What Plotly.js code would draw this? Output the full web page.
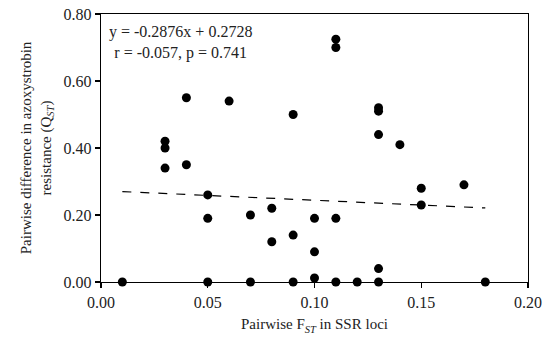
<!DOCTYPE html>
<html>
<head>
<meta charset="utf-8">
<script src="https://cdn.plot.ly/plotly-3.0.1.min.js"></script>
<style>html,body{margin:0;padding:0;background:#fff;}#chart{width:550px;height:345px;}</style>
</head>
<body>
<div id="chart"></div>
<script>
// Pairwise FST (x) and pairwise QST (y)
const fstValues = [0.01, 0.03, 0.03, 0.03, 0.04, 0.04, 0.05, 0.05, 0.05, 0.06,
                   0.07, 0.07, 0.08, 0.08, 0.09, 0.09, 0.09, 0.10, 0.10, 0.10,
                   0.11, 0.11, 0.11, 0.11, 0.12, 0.13, 0.13, 0.13, 0.13, 0.13,
                   0.14, 0.15, 0.15, 0.17, 0.18];
const qstValues = [0.00, 0.42, 0.40, 0.34, 0.55, 0.35, 0.26, 0.19, 0.00, 0.54,
                   0.20, 0.00, 0.22, 0.12, 0.50, 0.14, 0.00, 0.19, 0.09, 0.012,
                   0.725, 0.70, 0.19, 0.00, 0.00, 0.52, 0.51, 0.44, 0.04, 0.00,
                   0.41, 0.28, 0.23, 0.29, 0.00];
// Regression line y = slope*x + intercept, drawn over the data's x span
const slope = -0.2876;
const intercept = 0.2728;
const trendX = [0.01, 0.18];
const trendY = trendX.map(x => slope * x + intercept);

const xTicks = [0, 0.05, 0.10, 0.15, 0.20];
const xTickText = ['0.00', '0.05', '0.10', '0.15', '0.20'];
const yTicks = [0, 0.2, 0.4, 0.6, 0.8];
const yTickText = ['0.00', '0.20', '0.40', '0.60', '0.80'];

const font = 'Liberation Serif';
const txt = '#222';

const traces = [
  {
    x: trendX, y: trendY, type: 'scatter', mode: 'lines',
    line: {color: '#000', width: 1.2, dash: 'dash'},
    hoverinfo: 'skip', cliponaxis: false
  },
  {
    x: fstValues, y: qstValues, type: 'scatter', mode: 'markers',
    marker: {color: '#000', size: 9},
    cliponaxis: false
  }
];

const axisCommon = {
  showgrid: false, zeroline: false, showline: true, linecolor: '#000', linewidth: 1.3,
  ticks: 'outside', ticklen: 5, tickcolor: '#000', tickwidth: 1.3,
  mirror: true,
  tickfont: {family: font, size: 16, color: txt},
  fixedrange: true
};

const layout = {
  width: 550, height: 345,
  margin: {l: 101, r: 22, t: 14, b: 63},
  paper_bgcolor: '#fff', plot_bgcolor: '#fff',
  showlegend: false,
  font: {family: font, color: txt},
  xaxis: Object.assign({}, axisCommon, {
    range: [0, 0.2], tickvals: xTicks, ticktext: xTickText,
    title: {text: 'Pairwise F<sub><i>ST</i></sub> in SSR loci', font: {family: font, size: 15, color: txt}, standoff: 9}
  }),
  yaxis: Object.assign({}, axisCommon, {
    range: [0, 0.8], tickvals: yTicks, ticktext: yTickText,
    title: {text: 'Pairwise difference in azoxystrobin<br>resistance (Q<sub><i>ST</i></sub>)', font: {family: font, size: 15, color: txt}, standoff: 8}
  }),
  annotations: [
    {xref: 'paper', yref: 'paper', x: 0.015, y: 0.975, xanchor: 'left', yanchor: 'top', align: 'center',
     showarrow: false, text: 'y = -0.2876x + 0.2728<br>r = -0.057, p = 0.741',
     font: {family: font, size: 16, color: txt}}
  ]
};

Plotly.newPlot('chart', traces, layout, {displayModeBar: false, staticPlot: true});
</script>
</body>
</html>
